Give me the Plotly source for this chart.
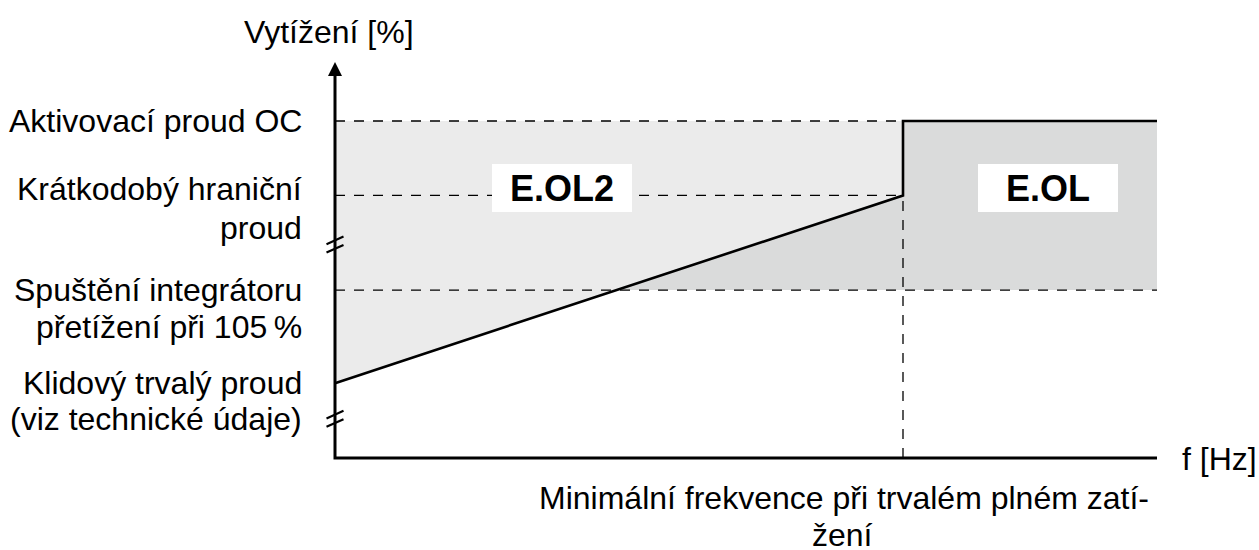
import plotly.graph_objects as go

# ---- schematic data (arbitrary units: x = frequency, y = load) ----
X_MAX = 100.0            # end of frequency axis
Y_MAX = 100.0            # end of load axis (arrow tip)
F_MIN = 69.1             # minimal frequency at permanent full load
LEVEL_OC = 85.1          # Aktivovací proud OC
LEVEL_LIMIT = 66.3       # Krátkodobý hraniční proud
LEVEL_INTEG = 42.4       # Spuštění integrátoru přetížení při 105 %
LEVEL_REST = 18.9        # Klidový trvalý proud
BREAK_LEVELS = [53.9, 9.9]

level_values = [LEVEL_OC, LEVEL_LIMIT, LEVEL_INTEG, LEVEL_REST]
level_lines1 = ["Aktivovací proud OC", "Krátkodobý hraniční",
                "Spuštění integrátoru", "Klidový trvalý proud"]
level_lines2 = [None, "proud", "přetížení při 105\u202f%", "(viz technické údaje)"]
line1_shift = [0, 6.5, 0, 0]
line2_shift = [None, -32.5, -37.3, -36]

region_labels = ["E.OL2", "E.OL"]
region_label_x = [27.6, 86.7]
region_label_y = [68.2, 68.2]

y_title = "Vytížení [%]"
x_title = "f [Hz]"
fmin_lines = ["Minimální frekvence při trvalém plném zatí-", "žení"]

# ---- layout geometry ----
W, H = 1259, 550
AX_LEFT, AX_RIGHT, AX_TOP, AX_BOTTOM = 335, 1157, 62, 458   # axis span in px
PAD = 20                                                    # room so lines at 0 are not clipped
px_x = (AX_RIGHT - AX_LEFT) / X_MAX
px_y = (AX_BOTTOM - AX_TOP) / Y_MAX
ML, MR, MT, MB = AX_LEFT - PAD, W - AX_RIGHT, AX_TOP, H - AX_BOTTOM - PAD
x_range = [-PAD / px_x, X_MAX]
y_range = [-PAD / px_y, Y_MAX]

LIGHT = "#ebebeb"
DARK = "#dadbdb"
FONT = "Liberation Sans, Arial, sans-serif"

fig = go.Figure()

# intersection of the rising characteristic with the integrator level
x_int = F_MIN * (LEVEL_INTEG - LEVEL_REST) / (LEVEL_LIMIT - LEVEL_REST)

# light region (E.OL2)
fig.add_trace(go.Scatter(
    x=[0, F_MIN, F_MIN, 0, 0],
    y=[LEVEL_OC, LEVEL_OC, LEVEL_LIMIT, LEVEL_REST, LEVEL_OC],
    fill="toself", fillcolor=LIGHT, mode="none", hoverinfo="skip"))
# dark region (E.OL)
fig.add_trace(go.Scatter(
    x=[x_int, F_MIN, F_MIN, X_MAX, X_MAX, x_int],
    y=[LEVEL_INTEG, LEVEL_LIMIT, LEVEL_OC, LEVEL_OC, LEVEL_INTEG, LEVEL_INTEG],
    fill="toself", fillcolor=DARK, mode="none", hoverinfo="skip"))

dash_style = dict(color="black", width=1.3, dash="10px,9px")
for xs, ys in [([0, F_MIN], [LEVEL_OC, LEVEL_OC]),
               ([0, F_MIN], [LEVEL_LIMIT, LEVEL_LIMIT]),
               ([0, X_MAX], [LEVEL_INTEG, LEVEL_INTEG]),
               ([F_MIN, F_MIN], [0, LEVEL_LIMIT])]:
    fig.add_trace(go.Scatter(x=xs, y=ys, mode="lines", line=dash_style,
                             hoverinfo="skip"))

# characteristic
fig.add_trace(go.Scatter(
    x=[0, F_MIN, F_MIN, X_MAX],
    y=[LEVEL_REST, LEVEL_LIMIT, LEVEL_OC, LEVEL_OC],
    mode="lines", line=dict(color="black", width=2.6),
    hoverinfo="skip"))

# axes
fig.add_trace(go.Scatter(x=[0, 0, X_MAX], y=[Y_MAX - 12 / px_y, 0, 0], mode="lines",
                         line=dict(color="black", width=3), hoverinfo="skip"))
fig.add_trace(go.Scatter(x=[0], y=[Y_MAX], mode="markers",
                         marker=dict(symbol="arrow-up", size=14, color="black",
                                     line=dict(width=0)),
                         hoverinfo="skip", cliponaxis=False))

# axis breaks (two short parallel slashes)
hx = 8.5 / px_x
hy = 3.8 / px_y
sep = 4.2 / px_y
for b in BREAK_LEVELS:
    for s in (sep, -sep):
        fig.add_trace(go.Scatter(x=[-hx, hx], y=[b + s - hy, b + s + hy],
                                 mode="lines", line=dict(color="black", width=2.2),
                                 hoverinfo="skip"))

annotations = []
base_font = dict(family=FONT, size=32, color="black")
for val, t1, t2, s1, s2 in zip(level_values, level_lines1, level_lines2,
                               line1_shift, line2_shift):
    annotations.append(dict(x=0, y=val, xref="x", yref="y", text=t1,
                            xanchor="right", yanchor="middle", xshift=-31,
                            yshift=s1, showarrow=False, font=base_font))
    if t2:
        annotations.append(dict(x=0, y=val, xref="x", yref="y", text=t2,
                                xanchor="right", yanchor="middle", xshift=-31,
                                yshift=s2, showarrow=False, font=base_font))

for t, x, y in zip(region_labels, region_label_x, region_label_y):
    annotations.append(dict(x=x, y=y, xref="x", yref="y", text="<b>" + t + "</b>",
                            showarrow=False, bgcolor="white", width=140, height=48,
                            borderpad=0, borderwidth=0,
                            font=dict(family=FONT, size=36, color="black")))

annotations.append(dict(x=0, y=Y_MAX, xref="x", yref="y", text=y_title,
                        xanchor="center", yanchor="middle", xshift=-6.5, yshift=29.7,
                        showarrow=False, font=base_font))
annotations.append(dict(x=X_MAX, y=0, xref="x", yref="y", text=x_title,
                        xanchor="left", yanchor="middle", xshift=23, yshift=-1,
                        showarrow=False, font=base_font))
annotations.append(dict(x=F_MIN, y=0, xref="x", yref="y", text=fmin_lines[0],
                        xanchor="center", yanchor="middle", xshift=-59, yshift=-40,
                        showarrow=False, font=base_font))
annotations.append(dict(x=F_MIN, y=0, xref="x", yref="y", text=fmin_lines[1],
                        xanchor="center", yanchor="middle", xshift=-61, yshift=-77,
                        showarrow=False, font=base_font))

fig.update_layout(
    width=W, height=H, autosize=False,
    margin=dict(l=ML, r=MR, t=MT, b=MB, pad=0),
    paper_bgcolor="white", plot_bgcolor="white",
    showlegend=False,
    xaxis=dict(range=x_range, visible=False, fixedrange=True),
    yaxis=dict(range=y_range, visible=False, fixedrange=True),
    annotations=annotations,
)

fig.write_html(
    "out.html",
    config={"displayModeBar": False, "staticPlot": True},
    post_script="document.body.style.margin='0';document.body.style.overflow='hidden';",
)
